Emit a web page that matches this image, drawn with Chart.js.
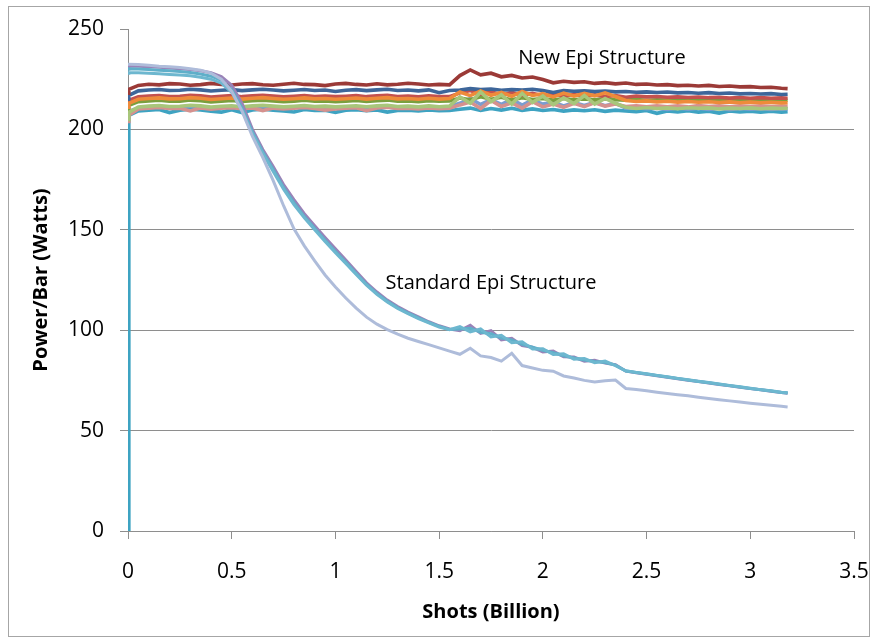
<!DOCTYPE html>
<html><head><meta charset="utf-8">
<script src="https://cdn.jsdelivr.net/npm/chart.js@4.4.1/dist/chart.umd.min.js"></script>
<style>html,body{margin:0;padding:0;background:#fff;}#wrap{position:relative;width:873px;height:641px;}</style>
</head><body><div id="wrap"><canvas id="c" width="873" height="641"></canvas></div>
<script>
const shots = [0,0.004,0.05,0.1,0.15,0.2,0.25,0.3,0.35,0.4,0.45,0.5,0.55,0.6,0.65,0.7,0.75,0.8,0.85,0.9,0.95,1,1.05,1.1,1.15,1.2,1.25,1.3,1.35,1.4,1.45,1.5,1.55,1.6,1.65,1.7,1.75,1.8,1.85,1.9,1.95,2,2.05,2.1,2.15,2.2,2.25,2.3,2.35,2.4,2.45,2.5,2.55,2.6,2.65,2.7,2.75,2.8,2.85,2.9,2.95,3,3.05,3.1,3.15,3.18];

const xTicks = [0,0.5,1,1.5,2,2.5,3,3.5];
const yTicks = [0,50,100,150,200,250];

const newRed = [218,220,
 221.9,222.5,222.2,222.8,222.6,222.0,222.3,222.9,222.4,222.1,
 222.6,222.8,222.2,222.0,222.5,223.0,222.4,222.3,221.8,222.6,
 222.9,222.4,222.1,222.7,222.2,222.5,223.0,222.6,222.1,222.4,
 222.2,226.8,229.6,227.2,228.0,226.2,226.9,225.6,226.1,224.8,
 223.2,224.0,223.4,223.7,222.9,223.3,222.7,223.1,222.4,222.6,
 222.1,222.3,221.8,222.0,221.6,221.9,221.4,221.6,221.2,221.3,
 220.9,221.0,220.5,220.3];
const newBlue = [215,217,
 219.2,219.6,219.9,219.4,219.5,220.0,219.7,219.1,219.5,219.8,
 219.3,219.7,220.0,219.6,219.2,219.5,219.9,219.4,219.6,218.9,
 219.5,219.8,219.3,219.7,220.0,219.4,219.6,219.2,219.7,218.3,
 219.4,219.6,220.3,219.8,220.1,219.5,219.9,219.6,220.0,219.4,
 218.4,219.3,219.0,219.2,218.8,219.1,218.7,218.9,218.5,218.7,
 218.4,218.6,218.2,218.4,218.0,218.3,217.9,218.1,217.7,217.9,
 217.6,217.8,217.4,217.5];
const newRed2 = [213,214.5,
 216.2,216.6,216.9,216.4,216.5,217.0,216.7,216.1,216.5,216.8,
 216.3,216.7,217.0,216.6,216.2,216.5,216.9,216.4,216.6,216.3,
 216.5,216.8,216.3,216.7,217.0,216.4,216.6,216.2,216.7,216.4,
 216.3,218.2,219.4,217.6,218.8,217.2,218.4,217.0,218.0,216.8,
 217.6,216.6,217.4,216.5,217.2,216.4,216.9,216.0,216.6,216.2,
 216.4,216.0,216.2,215.9,216.1,215.8,216.0,215.6,215.9,215.5,
 215.8,215.5,215.7,215.5];
const newOrange = [211,213,
 215.0,215.4,215.7,215.2,215.3,215.8,215.5,214.9,215.3,215.6,
 215.1,215.5,215.8,215.4,215.0,215.3,215.7,215.2,215.4,215.0,
 215.3,215.6,215.1,215.5,215.8,215.2,215.4,215.0,215.5,215.1,
 215.4,218.6,216.8,219.2,217.0,218.4,216.5,218.9,216.9,217.8,
 216.2,218.1,216.6,217.9,216.7,218.2,216.4,214.4,213.9,214.2,
 213.7,214.0,213.6,213.9,213.5,213.8,213.4,213.7,213.3,213.6,
 213.3,213.5,213.2,213.3];
const newGreen = [210,212,
 213.8,214.2,214.5,214.0,214.1,214.6,214.3,213.7,214.1,214.4,
 213.9,214.3,214.6,214.2,213.8,214.1,214.5,214.0,214.2,213.8,
 214.1,214.4,213.9,214.3,214.6,214.0,214.2,213.8,214.3,214.0,
 214.2,215.6,214.8,216.3,215.0,216.0,214.7,215.8,214.9,215.4,
 214.6,215.4,214.8,215.2,214.7,215.3,214.8,214.6,214.9,214.5,
 214.8,214.6,214.9,214.5,214.8,214.6,214.9,214.5,214.7,214.6,
 214.8,214.5,214.7,214.5];
const newLightGreen = [205,208.5,
 211.2,211.6,211.9,211.4,211.5,212.0,211.7,211.1,211.5,211.8,
 211.3,211.7,212.0,211.6,211.2,211.5,211.9,211.4,211.6,211.2,
 211.5,211.8,211.3,211.7,212.0,211.4,211.6,211.2,211.7,211.3,
 211.6,216.2,213.0,218.6,213.8,217.2,212.6,217.9,213.4,216.6,
 212.3,215.7,212.9,216.9,212.6,215.4,213.0,211.0,210.4,210.9,
 210.4,210.7,210.3,210.8,210.5,210.7,210.2,210.6,210.4,210.7,
 210.3,210.6,210.4,210.5];
const newPink = [204,207,
 210.2,210.6,210.9,210.4,210.5,209.2,210.7,210.1,210.5,210.8,
 210.3,210.7,209.4,210.6,210.2,210.5,210.9,210.4,209.6,210.2,
 210.5,210.8,209.3,210.7,211.0,210.4,210.6,210.2,210.7,210.3,
 210.6,212.2,213.6,210.4,214.4,211.4,213.2,210.6,213.8,211.2,
 212.6,211.0,213.0,211.3,213.3,211.6,212.6,211.4,211.8,211.2,
 211.7,211.3,211.8,211.2,211.9,211.4,211.8,211.3,211.8,211.4,
 211.7,211.4,211.6,211.5];
const newTeal = [0,207,
 209.2,209.6,209.9,208.4,209.5,210.0,209.7,209.1,208.6,209.8,
 208.3,209.7,210.0,209.6,209.2,208.7,209.9,209.4,209.6,208.5,
 209.5,209.8,209.3,209.7,208.6,209.4,209.6,209.2,209.7,209.3,
 209.4,210.0,210.6,209.4,210.4,209.6,210.5,209.5,210.2,209.4,
 209.9,209.1,209.7,209.3,209.8,209.0,209.6,209.2,208.8,209.4,
 208.0,209.2,208.7,209.3,208.6,209.1,208.1,209.2,208.7,209.0,
 208.6,209.0,208.6,208.8];
const newLightBlue = [206,209,
 210.7,211.1,211.4,210.9,211.0,211.5,211.2,210.6,211.0,211.3,
 210.8,211.2,211.5,211.1,210.7,211.0,211.4,210.9,211.1,210.7,
 211.0,211.3,210.8,211.2,211.5,210.9,211.1,210.7,211.2,210.8,
 211.4,213.0,215.4,212.4,214.8,212.5,215.0,212.1,214.6,212.6,
 213.6,211.7,213.3,211.9,213.5,211.8,213.0,210.6,210.8,210.3,
 210.6,210.0,210.7,210.1,210.5,209.9,210.6,209.8,210.4,210.0,
 210.3,209.9,210.3,210.2];

const stdPurple = [231,231.5,
 231.5,231.2,230.9,230.6,230.2,229.8,229.2,228.2,226.3,222,
 213,200,190,181.5,172.5,165,158,152,146.2,140.6,
 135,129.2,123.6,119,115,111.8,109,106.6,104.2,102.2,
 100.6,99.8,102.5,98.4,99.8,95.2,96,92.4,91.5,89.2,
 89.6,86.8,86.6,84.6,85,83.6,82.8,79.6,78.8,78.1,
 77.3,76.6,75.8,75.1,74.4,73.7,73.0,72.3,71.6,70.9,
 70.3,69.6,69.0,68.6];
const stdTeal = [228,228.2,
 228.2,228,227.7,227.4,227.1,226.7,226,225,223,218.5,
 209.5,198,188,179,170.2,162.6,156,150,144.2,138.6,
 133.2,127.8,122.4,117.8,114,110.8,108.2,105.8,103.6,101.6,
 100.2,101.8,99.2,100.6,96.6,97.5,93.8,94.2,90.6,90.8,
 87.9,88.2,85.6,85.9,83.8,84.6,82.4,79.8,79.0,78.3,
 77.5,76.8,76.0,75.3,74.6,73.9,73.2,72.5,71.8,71.1,
 70.4,69.8,69.1,68.8];
const stdCyan = [230,230.2,
 230.1,229.8,229.5,229.2,228.8,228.3,227.6,226.5,224.4,219.8,
 210.6,198.6,188.8,180,171,163.4,156.6,150.6,144.8,139.2,
 133.8,128.2,122.8,118.2,114.4,111.2,108.5,106.1,103.9,101.9,
 100.4,100.6,101,98.9,98.2,96.1,95.2,93,91.6,90,
 88.8,87.3,86.2,85.2,84.4,83.9,82.6,79.7,78.9,78.2,
 77.4,76.7,75.9,75.2,74.5,73.8,73.1,72.4,71.7,71.0,
 70.4,69.7,69.0,68.7];
const stdLavender = [232.5,232.5,
 232.3,232,231.5,231.2,230.8,230.2,229.5,228,225,219,
 209,196.5,186,174.5,162,150.5,142,134.5,127.5,121.5,
 116,111,106.5,103,100.3,98,96,94.4,92.8,91.2,
 89.6,88,91,87.2,86.4,84.6,88.5,82.4,81.2,80,
 79.6,77.2,76.2,75,74.2,74.8,75.2,71,70.5,69.8,
 69.1,68.5,67.9,67.3,66.6,66.0,65.4,64.8,64.2,63.6,
 63.1,62.6,62.1,61.8];

const seriesNames = ['Std 1','Std 2','Std 3','Std 4','New 1','New 2','New 3','New 4','New 5','New 6','New 7','New 8','New 9'];
const seriesValues = [stdLavender, stdTeal, stdCyan, stdPurple, newRed, newLightGreen, newOrange, newBlue, newRed2, newGreen, newPink, newLightBlue, newTeal];
const seriesColors = ['#AEBCDA','#6DB7CF','#5FAFC9','#9A83B8','#9B3A37','#A8C67B','#EE8B3A','#3D669A','#C4514E','#7A9F3E','#D5918E','#7B9DD0','#3EA3C2'];

const labelNew = 'New Epi Structure';
const labelStd = 'Standard Epi Structure';

const datasets = seriesValues.map((vals, k) => ({
  label: seriesNames[k],
  data: vals.map((v, i) => ({x: shots[i], y: v})),
  borderColor: seriesColors[k],
  backgroundColor: seriesColors[k],
  borderWidth: k < 4 ? 3 : 3.6,
  pointRadius: 0,
  tension: 0,
  fill: false,
  order: k
}));

const GRID = '#8E8E8E';
const FONT = "'Open Sans', 'DejaVu Sans', sans-serif";

const framePlugin = {
  id: 'frame',
  beforeDraw(chart) {
    const c = chart.ctx;
    c.save();
    c.fillStyle = '#fff';
    c.fillRect(0, 0, chart.width, chart.height);
    c.strokeStyle = '#A6A6A6';
    c.lineWidth = 1;
    c.strokeRect(8.5, 6.5, 861, 630);
    c.restore();
  },
  afterDatasetsDraw(chart) {
    const c = chart.ctx, xs = chart.scales.x, ys = chart.scales.y;
    c.save();
    c.fillStyle = '#000';
    c.font = '20px ' + FONT;
    c.textAlign = 'center';
    c.textBaseline = 'middle';
    c.fillText(labelNew, xs.getPixelForValue(2.285), ys.getPixelForValue(235.5));
    c.fillText(labelStd, xs.getPixelForValue(1.75), ys.getPixelForValue(123.5));
    c.restore();
  }
};

new Chart(document.getElementById('c'), {
  type: 'line',
  data: { datasets },
  options: {
    responsive: false,
    animation: false,
    events: [],
    layout: { padding: { top: 29, right: 19, left: 0, bottom: 0 } },
    plugins: { legend: { display: false }, tooltip: { enabled: false } },
    scales: {
      x: {
        type: 'linear', min: 0, max: 3.5,
        afterFit(s) { s.height = 110; s.paddingRight = 0; s.paddingLeft = 0; },
        afterBuildTicks(s) { s.ticks = xTicks.map(v => ({value: v})); },
        ticks: { font: { family: FONT, size: 21 }, color: '#000', padding: 20, maxRotation: 0, autoSkip: false, callback: v => String(v) },
        grid: { drawOnChartArea: false, drawTicks: true, tickLength: 8, color: GRID },
        border: { color: GRID, width: 1 },
        title: { display: true, text: 'Shots (Billion)', color: '#000', font: { family: FONT, size: 20, weight: 'bold' }, padding: { top: 0, bottom: 17 } }
      },
      y: {
        type: 'linear', min: 0, max: 250,
        afterFit(s) { s.width = 128; },
        afterBuildTicks(s) { s.ticks = yTicks.map(v => ({value: v})); },
        ticks: { font: { family: FONT, size: 21 }, color: '#000', padding: 16, callback: v => String(v) },
        grid: { color: ctx => (ctx.tick && ctx.tick.value === 250) ? 'rgba(0,0,0,0)' : GRID, tickColor: GRID, tickLength: 8, lineWidth: 1 },
        border: { color: GRID, width: 1 },
        title: { display: true, text: 'Power/Bar (Watts)', color: '#000', font: { family: FONT, size: 20, weight: 'bold' }, padding: { top: 29, bottom: 0 } }
      }
    }
  },
  plugins: [framePlugin]
});
</script>
</body></html>
